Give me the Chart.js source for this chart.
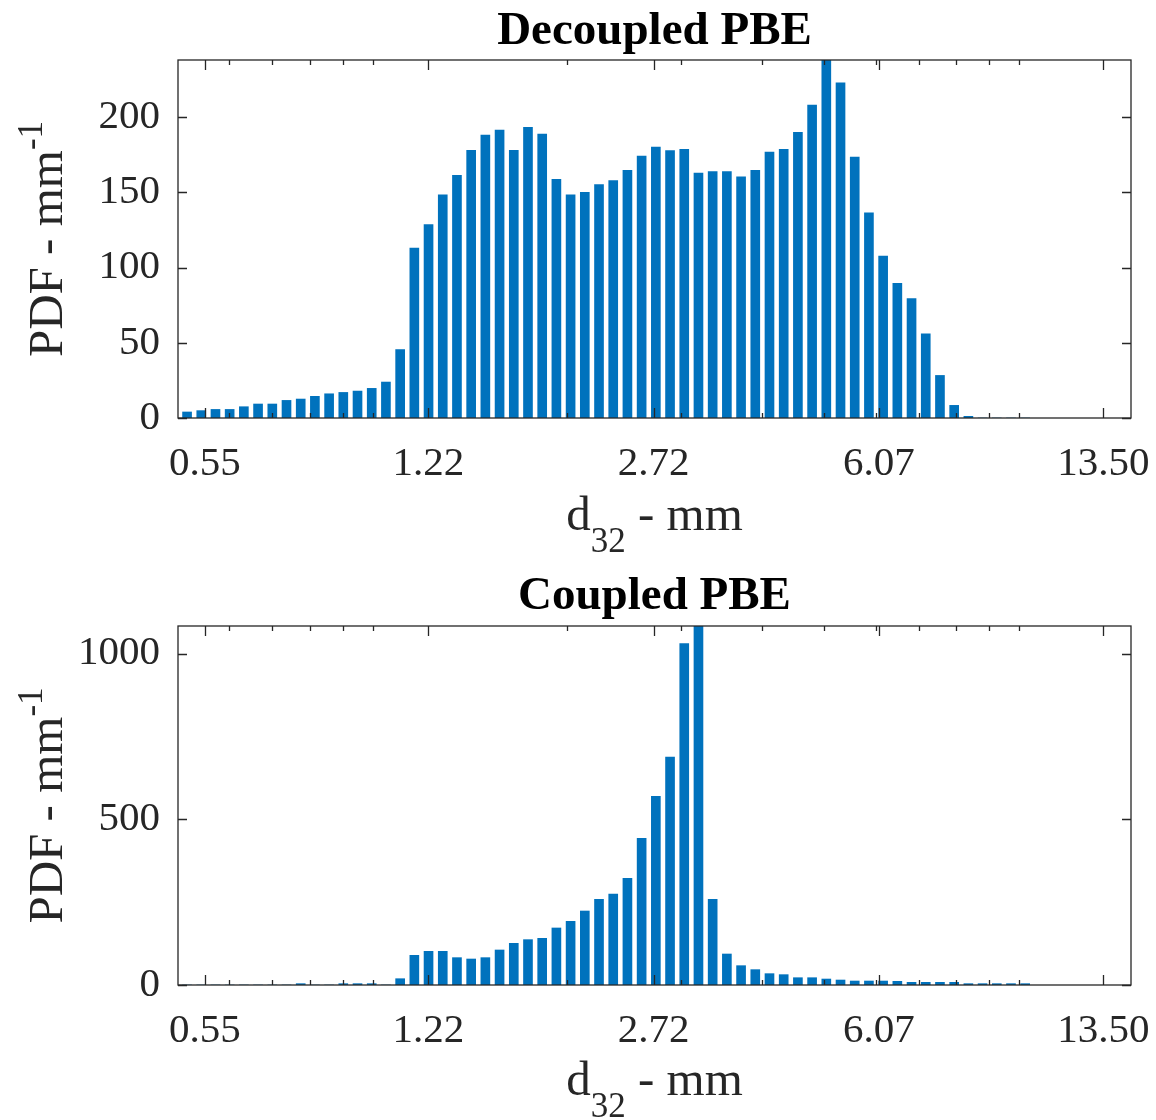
<!DOCTYPE html>
<html><head><meta charset="utf-8">
<script src="https://cdn.jsdelivr.net/npm/chart.js@4.4.1/dist/chart.umd.min.js"></script>
<style>
html,body{margin:0;padding:0;background:#fff;}
#wrap{position:relative;width:1156px;height:1120px;}
.box{position:absolute;left:0;width:1156px;height:560px;}
</style></head><body>
<div id="wrap">
<div class="box" style="top:0"><canvas id="c1"></canvas></div>
<div class="box" style="top:560px"><canvas id="c2"></canvas></div>
</div>
<script>
// bin centres of d32 (mm)
const binCenters = [0.5164,0.5432,0.5714,0.6010,0.6322,0.6650,0.6996,0.7359,0.7741,0.8142,
  0.8565,0.9009,0.9477,0.9969,1.0486,1.1031,1.1603,1.2205,1.2839,1.3505,
  1.4206,1.4943,1.5719,1.6535,1.7393,1.8296,1.9245,2.0244,2.1295,2.2400,
  2.3563,2.4786,2.6072,2.7426,2.8849,3.0346,3.1922,3.3578,3.5321,3.7154,
  3.9083,4.1111,4.3245,4.5490,4.7851,5.0334,5.2947,5.5695,5.8585,6.1626,
  6.4825,6.8189,7.1728,7.5451,7.9367,8.3487,8.7820,9.2378,9.7172,10.2216];
const decoupledPDF = [4.0,4.9,5.7,5.7,7.5,9.3,9.3,11.7,12.6,14.4,
  16.1,17.0,17.9,19.7,23.9,45.5,113,128.6,148.3,161.4,
  178,188.1,191.4,178,193.2,188.8,158.7,148.3,150.1,155.2,
  157.8,164.7,174.2,180.1,177.7,178.6,162.9,163.8,163.8,160.3,
  164.7,176.8,178.6,189.9,208,238,222.8,173.5,136.4,107.6,
  89.5,79.4,55.9,28.3,8.4,1.1,0,0,0,0];
const coupledPDF = [0,0,0,0,0,0,0,0,4,0,
  0,4,4,4,0,19,89.5,101.6,101.6,82.5,
  78.4,82.5,105.6,125.7,136.8,140.8,172,192,223.2,258.4,
  274.5,321.8,442.4,569.1,687.8,1029.6,1083,258.4,93.5,58.3,
  46.3,34.2,31.2,22,22,18,15,12,12,12,
  11,8,8,8,8,4,4,4,4,4];
const xTickValues = [0.55, 1.22, 2.72, 6.07, 13.5];
const xTickLabels = ['0.55','1.22','2.72','6.07','13.50'];
const xMinorTicks = [0.6,0.7,0.8,0.9,1,2,3,4,5,6,7,8,9,10];
const xRange = [0.5, 14.9];
const yTicksTop = [0,50,100,150,200];
const yTicksBottom = [0,500,1000];

const SERIF = '"Liberation Serif","Times New Roman",serif';
const AX = '#262626';

const matlabAxes = {
  id: 'matlabAxes',
  afterDraw(chart, args, o) {
    const {ctx, chartArea: a, scales: {x, y}} = chart;
    ctx.save();
    ctx.strokeStyle = AX; ctx.lineWidth = 1.3;
    ctx.beginPath();
    for (const t of x.ticks) {
      const px = Math.round(x.getPixelForValue(t.value)) + 0.5;
      const len = t.major ? 10 : 5;
      ctx.moveTo(px, a.bottom); ctx.lineTo(px, a.bottom - len);
      ctx.moveTo(px, a.top); ctx.lineTo(px, a.top + len);
    }
    for (const t of y.ticks) {
      const py = Math.round(y.getPixelForValue(t.value)) + 0.5;
      ctx.moveTo(a.left, py); ctx.lineTo(a.left + 9, py);
      ctx.moveTo(a.right, py); ctx.lineTo(a.right - 9, py);
    }
    ctx.stroke();
    ctx.strokeRect(a.left, a.top, a.right - a.left, a.bottom - a.top);
    // title
    ctx.fillStyle = '#000';
    ctx.font = 'bold 47px ' + SERIF;
    ctx.textAlign = 'center'; ctx.textBaseline = 'alphabetic';
    ctx.fillText(o.title, (a.left + a.right) / 2, o.titleY);
    // x label: d_{32} - mm
    ctx.fillStyle = AX;
    ctx.textAlign = 'left';
    const big = '49px ' + SERIF, small = '35px ' + SERIF;
    ctx.font = big; const w1 = ctx.measureText('d').width, w3 = ctx.measureText(' - mm').width;
    ctx.font = small; const w2 = ctx.measureText('32').width;
    let sx = (a.left + a.right) / 2 - (w1 + w2 + w3) / 2;
    ctx.font = big; ctx.fillText('d', sx, o.xLabelY);
    ctx.font = small; ctx.fillText('32', sx + w1, o.xLabelY + 22);
    ctx.font = big; ctx.fillText(' - mm', sx + w1 + w2, o.xLabelY);
    // y label: PDF - mm^{-1}
    ctx.save();
    ctx.translate(62, (a.top + a.bottom) / 2);
    ctx.rotate(-Math.PI / 2);
    ctx.font = big; const v1 = ctx.measureText('PDF - mm').width;
    ctx.font = small; const v2 = ctx.measureText('-1').width;
    const st = -(v1 + v2) / 2;
    ctx.font = big; ctx.fillText('PDF - mm', st, 0);
    ctx.font = small; ctx.fillText('-1', st + v1, -20);
    ctx.restore();
    ctx.restore();
  }
};

function makeChart(id, values, yTicks, title, padTop, xAxisH, titleY, xLabelY) {
  const pts = binCenters.map((c, i) => ({x: c, y: values[i]}));
  return new Chart(document.getElementById(id), {
    type: 'bar',
    data: { datasets: [{ data: pts, backgroundColor: '#0072BD', borderWidth: 0, barThickness: 9 }] },
    options: {
      responsive: true, maintainAspectRatio: false, animation: false,
      layout: { padding: { top: padTop, right: 25, left: 0, bottom: 0 } },
      plugins: { legend: { display: false }, tooltip: { enabled: false },
        matlabAxes: { title, titleY, xLabelY } },
      scales: {
        x: {
          type: 'logarithmic', min: xRange[0], max: xRange[1], offset: false, bounds: 'data',
          grid: { display: false, offset: false }, border: { display: false },
          afterBuildTicks: s => {
            const all = xTickValues.map(v => ({value: v, major: true}))
              .concat(xMinorTicks.map(v => ({value: v, major: false})));
            all.sort((p, q) => p.value - q.value);
            s.ticks = all;
          },
          afterFit: s => { s.height = xAxisH; s.paddingLeft = 0; s.paddingRight = 0; },
          ticks: {
            autoSkip: false, maxRotation: 0, minRotation: 0, padding: 14, color: AX,
            font: { family: SERIF, size: 41 },
            callback: v => { const k = xTickValues.indexOf(v); return k >= 0 ? xTickLabels[k] : ''; }
          }
        },
        y: {
          min: 0, max: Math.max(...values),
          grid: { display: false }, border: { display: false },
          afterBuildTicks: s => { s.ticks = yTicks.map(v => ({value: v})); },
          afterFit: s => { s.width = 178; s.paddingTop = 0; s.paddingBottom = 0; },
          ticks: { padding: 10, color: AX, font: { family: SERIF, size: 41 },
            callback: v => String(v) }
        }
      }
    },
    plugins: [matlabAxes]
  });
}
makeChart('c1', decoupledPDF, yTicksTop, 'Decoupled PBE', 60, 142, 44, 530);
makeChart('c2', coupledPDF, yTicksBottom, 'Coupled PBE', 66, 135, 49, 535);
</script>
</body></html>
